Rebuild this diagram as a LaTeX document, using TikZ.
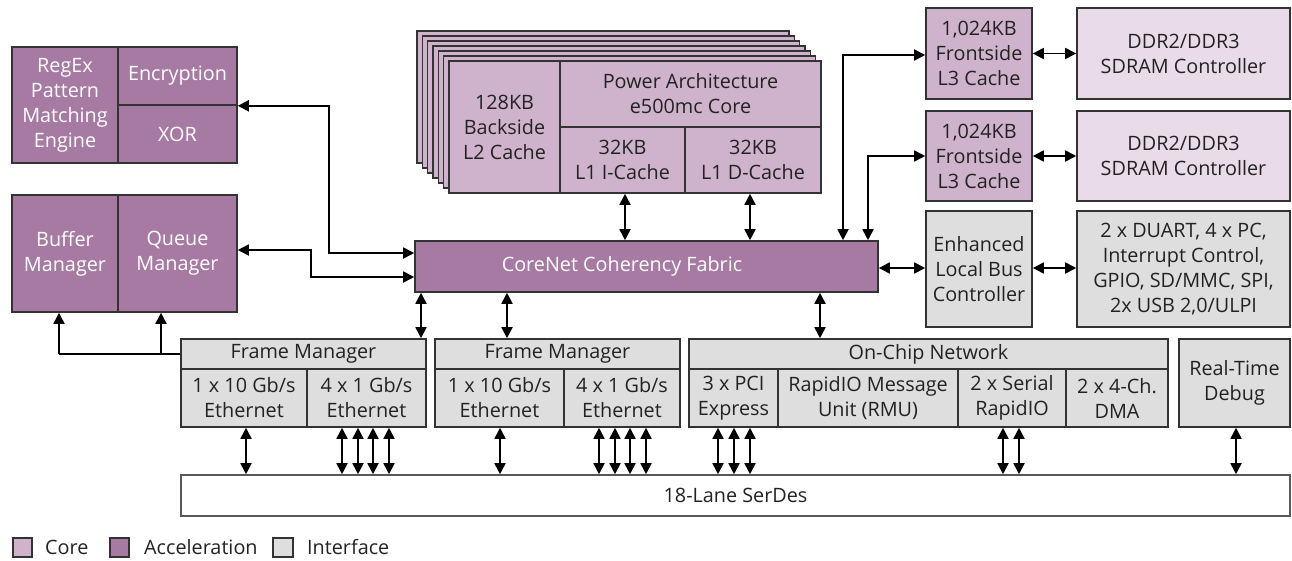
\documentclass[tikz,border=0pt]{standalone}
\usepackage{fontspec}
\setmainfont{Open Sans}
\usetikzlibrary{arrows.meta}
\definecolor{corec}{HTML}{CFB3CD}
\definecolor{accc}{HTML}{A77AA3}
\definecolor{ifc}{HTML}{DEDEDE}
\definecolor{ddrc}{HTML}{E9DBE7}
\definecolor{edgec}{HTML}{333333}
\definecolor{txtc}{HTML}{222222}
\tikzset{
 blk/.style={draw=edgec, line width=1.6pt, inner sep=0pt, align=center, font=\fontsize{19.8}{25}\selectfont, text=txtc},
 corebox/.style={blk, fill=corec},
 accbox/.style={blk, fill=accc, text=white},
 ifbox/.style={blk, fill=ifc},
 ddrbox/.style={blk, fill=ddrc},
 serbox/.style={blk, fill=white, draw=black!65},
 arr/.style={line width=1.8pt, -{Triangle[length=11pt,width=11pt]}},
 dbl/.style={line width=1.8pt, {Triangle[length=11pt,width=11pt]}-{Triangle[length=11pt,width=11pt]}},
 legtxt/.style={anchor=west, inner sep=0pt, font=\fontsize{19.8}{25}\selectfont, text=txtc},
}
\newcommand{\mybox}[7]{%
 \node[#1, minimum width={(#5-#3)*1pt}, minimum height={(#6-#4)*1pt}] (#2) at ({(#3+#5)/2},{(#4+#6)/2}) {#7};}
\begin{document}
\begin{tikzpicture}[x=1pt,y=-1pt]
\useasboundingbox (0,0) rectangle (1292,560);
% acceleration blocks
\mybox{accbox}{RegEx}{12}{47}{118}{163}{RegEx\\Pattern\\Matching\\Engine}
\mybox{accbox}{Enc}{118}{47}{237}{105}{Encryption}
\mybox{accbox}{XOR}{118}{105}{237}{163}{XOR}
\mybox{accbox}{Buffer}{12}{195}{118}{312}{Buffer\\Manager}
\mybox{accbox}{Queue}{118}{195}{237}{312}{Queue\\Manager}
% core stack
\foreach \k in {6,5,4,3,2,1}{
  \filldraw[fill=corec, draw=edgec, line width=1.6pt]
    ({449-5.33*\k},{61-5*\k}) rectangle ({821-5.33*\k},{193-5*\k});
}
\mybox{corebox}{L2}{449}{61}{560}{193}{128KB\\Backside\\L2 Cache}
\mybox{corebox}{PA}{560}{61}{821}{127}{Power Architecture\\e500mc Core}
\mybox{corebox}{L1I}{560}{127}{685}{193}{32KB\\L1 I-Cache}
\mybox{corebox}{L1D}{685}{127}{821}{193}{32KB\\L1 D-Cache}
% right column
\mybox{corebox}{L3a}{926}{8}{1032}{99}{1,024KB\\Frontside\\L3 Cache}
\mybox{ddrbox}{DDRa}{1077}{8}{1290}{99}{DDR2/DDR3\\SDRAM Controller}
\mybox{corebox}{L3b}{926}{111}{1032}{201}{1,024KB\\Frontside\\L3 Cache}
\mybox{ddrbox}{DDRb}{1077}{111}{1290}{201}{DDR2/DDR3\\SDRAM Controller}
\mybox{ifbox}{ELB}{926}{211}{1032}{327}{Enhanced\\Local Bus\\Controller}
\mybox{ifbox}{DUART}{1077}{211}{1290}{327}{2 x DUART, 4 x PC,\\Interrupt Control,\\GPIO, SD/MMC, SPI,\\2x USB 2,0/ULPI}
% fabric
\mybox{accbox}{CoreNet}{415}{241}{878}{292}{}
\node[blk, draw=none, text=white] (CoreNetLbl) at (622,266.5) {CoreNet Coherency Fabric};
% interfaces
\mybox{ifbox}{FMh1}{181}{339}{426}{369}{Frame Manager}
\mybox{ifbox}{E10a}{181}{369}{307}{427}{1 x 10 Gb/s\\Ethernet}
\mybox{ifbox}{E1a}{307}{369}{426}{427}{4 x 1 Gb/s\\Ethernet}
\mybox{ifbox}{FMh2}{435}{339}{680}{369}{Frame Manager}
\mybox{ifbox}{E10b}{435}{369}{564}{427}{1 x 10 Gb/s\\Ethernet}
\mybox{ifbox}{E1b}{564}{369}{680}{427}{4 x 1 Gb/s\\Ethernet}
\mybox{ifbox}{OCN}{689}{339}{1168}{369}{On-Chip Network}
\mybox{ifbox}{PCI}{689}{369}{778}{427}{3 x PCI\\Express}
\mybox{ifbox}{RMU}{778}{369}{958}{427}{RapidIO Message\\Unit (RMU)}
\mybox{ifbox}{SRIO}{958}{369}{1066}{427}{2 x Serial\\RapidIO}
\mybox{ifbox}{DMA}{1066}{369}{1168}{427}{2 x 4-Ch.\\DMA}
\mybox{ifbox}{RTD}{1179}{339}{1290}{427}{Real-Time\\Debug}
\mybox{serbox}{SerDes}{181}{475}{1290}{516}{18-Lane SerDes}
% connectors: core to fabric
\coordinate (xI) at (625,0);
\coordinate (xD) at (750,0);
\draw[dbl] (xI |- L1I.south) -- (xI |- CoreNet.north);
\draw[dbl] (xD |- L1D.south) -- (xD |- CoreNet.north);
% L3 caches
\coordinate (xL3a) at (843,55);
\coordinate (xL3b) at (868,156);
\draw[dbl] (xL3a |- CoreNet.north) -- (xL3a) -- (xL3a -| L3a.west);
\draw[dbl] (xL3b |- CoreNet.north) -- (xL3b) -- (xL3b -| L3b.west);
\draw[dbl] (L3a.east) -- (L3a.east -| DDRa.west);
\draw[dbl] (L3b.east) -- (L3b.east -| DDRb.west);
\coordinate (ye) at (0,268);
\draw[dbl] (ye -| CoreNet.east) -- (ye -| ELB.west);
\draw[dbl] (ye -| ELB.east) -- (ye -| DUART.west);
% acceleration to fabric
\coordinate (xa) at (329,253);
\coordinate (qa) at (311,277);
\draw[dbl] (Enc.south east) -| (xa) -- (xa -| CoreNet.west);
\draw[dbl] ([yshift=3.5pt]Queue.east) -| (qa) -- (qa -| CoreNet.west);
% frame manager to buffer/queue
\coordinate (bq1) at (59,0);
\coordinate (bq2) at (161,0);
\draw[line width=1.8pt] (FMh1.west) -- (FMh1.west -| bq1);
\draw[arr] (FMh1.west -| bq1) -- (bq1 |- Buffer.south);
\draw[arr] (FMh1.west -| bq2) -- (bq2 |- Queue.south);
% fabric to interfaces
\coordinate (f1) at (421,0);
\coordinate (f2) at (507,0);
\coordinate (f3) at (820,0);
\draw[dbl] (f1 |- CoreNet.south) -- (f1 |- FMh1.north);
\draw[dbl] (f2 |- CoreNet.south) -- (f2 |- FMh2.north);
\draw[dbl] (f3 |- CoreNet.south) -- (f3 |- OCN.north);
% to SerDes
\foreach \x in {246,342,358,373,389,500,599,615,630,646,718,734,750,1003,1019,1236}{
  \coordinate (s\x) at (\x,0);
  \draw[dbl] (s\x |- E10a.south) -- (s\x |- SerDes.north);
}
% legend
\mybox{corebox}{legC}{13}{538}{32}{557}{}
\node[legtxt] (legCt) at (45,547) {Core};
\mybox{accbox}{legA}{110}{538}{129}{557}{}
\node[legtxt] (legAt) at (144,547) {Acceleration};
\mybox{ifbox}{legI}{273}{538}{293}{557}{}
\node[legtxt] (legIt) at (307,547) {Interface};
\end{tikzpicture}
\end{document}
